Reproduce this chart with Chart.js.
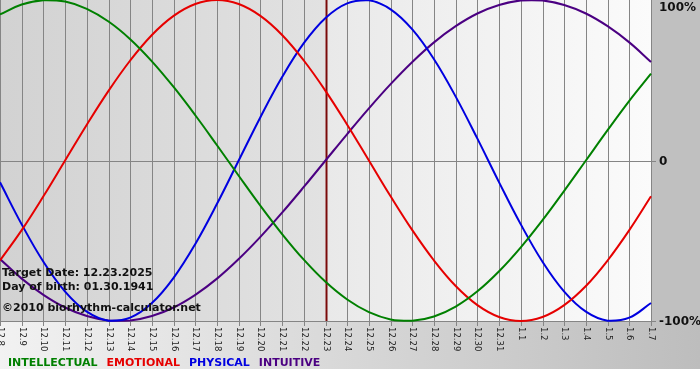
<!DOCTYPE html>
<html>
<head>
<meta charset="utf-8">
<script src="https://cdn.jsdelivr.net/npm/chart.js@4"></script>
<style>
  html, body { margin: 0; padding: 0; background: #fff; }
  #wrap { position: relative; width: 700px; height: 380px; }
</style>
</head>
<body>
<div id="wrap"><canvas id="c" width="700" height="380"></canvas></div>
<script>
// days shown on the x axis (month.day)
const days = ['12.8','12.9','12.10','12.11','12.12','12.13','12.14','12.15','12.16','12.17','12.18',
  '12.19','12.20','12.21','12.22','12.23','12.24','12.25','12.26','12.27','12.28','12.29','12.30',
  '12.31','1.1','1.2','1.3','1.4','1.5','1.6','1.7'];
const targetDay = '12.23';

// cycle values, -1 .. 1
const intellectual = [0.910,0.972,0.999,0.990,0.945,0.866,0.756,0.618,0.458,0.282,0.095,-0.095,-0.282,-0.458,-0.618,
  -0.756,-0.866,-0.945,-0.990,-0.999,-0.972,-0.910,-0.815,-0.690,-0.541,-0.372,-0.189,0.000,0.189,0.372,0.541];
const emotional = [-0.623,-0.434,-0.223,0.000,0.223,0.434,0.623,0.782,0.901,0.975,1.000,0.975,0.901,0.782,0.623,
  0.434,0.223,0.000,-0.223,-0.434,-0.623,-0.782,-0.901,-0.975,-1.000,-0.975,-0.901,-0.782,-0.623,-0.434,-0.223];
const physical = [-0.136,-0.398,-0.631,-0.817,-0.942,-0.998,-0.979,-0.888,-0.731,-0.520,-0.270,0.000,0.270,0.520,0.731,
  0.888,0.979,0.998,0.942,0.817,0.631,0.398,0.136,-0.136,-0.398,-0.631,-0.817,-0.942,-0.998,-0.979,-0.888];
const intuitive = [-0.614,-0.736,-0.837,-0.916,-0.969,-0.997,-0.997,-0.969,-0.916,-0.837,-0.736,-0.614,-0.476,-0.325,-0.165,
  0.000,0.165,0.325,0.476,0.614,0.736,0.837,0.916,0.969,0.997,0.997,0.969,0.916,0.837,0.736,0.614];

const yTicks = [1, 0, -1];
const yTickLabels = ['100%', '0', '-100%'];
const seriesNames = ['INTELLECTUAL', 'EMOTIONAL', 'PHYSICAL', 'INTUITIVE'];
const seriesColors = ['#008000', '#e60000', '#0000e0', '#4b0082'];
const infoLines = ['Target Date: 12.23.2025', 'Day of birth: 01.30.1941', '\u00a92010 biorhythm-calculator.net'];

const FONT = "'DejaVu Sans', Verdana, sans-serif";
const GRID = '#858585';

const backdrop = {
  id: 'backdrop',
  beforeDraw(chart) {
    const { ctx, chartArea: a, width, height } = chart;
    const xs = chart.scales.x;
    ctx.save();
    // outer frame
    ctx.fillStyle = '#fff';
    ctx.fillRect(0, 0, width, height);
    let g = ctx.createLinearGradient(0, 0, width, 0);
    g.addColorStop(0, '#f2f2f2');
    g.addColorStop(1, '#bdbdbd');
    ctx.fillStyle = g;
    ctx.fillRect(0, a.bottom, width, 369 - a.bottom);
    ctx.fillStyle = '#c0c0c0';
    ctx.fillRect(a.right, 0, width - a.right, a.bottom);

    // plot: past part darker than future part
    const tx = xs.getPixelForValue(days.indexOf(targetDay));
    g = ctx.createLinearGradient(a.left, 0, tx, 0);
    g.addColorStop(0, '#d2d2d2');
    g.addColorStop(1, '#e2e2e2');
    ctx.fillStyle = g;
    ctx.fillRect(a.left, a.top, tx - a.left, a.bottom - a.top);
    g = ctx.createLinearGradient(tx, 0, a.right, 0);
    g.addColorStop(0, '#e9e9e9');
    g.addColorStop(1, '#fbfbfb');
    ctx.fillStyle = g;
    ctx.fillRect(tx, a.top, a.right - tx, a.bottom - a.top);

    // grid
    ctx.strokeStyle = GRID;
    ctx.lineWidth = 1;
    ctx.beginPath();
    days.forEach((d, i) => {
      const x = Math.round(xs.getPixelForValue(i)) + 0.5;
      ctx.moveTo(x, a.top);
      ctx.lineTo(x, a.bottom + 5);
    });
    const y0 = Math.round(chart.scales.y.getPixelForValue(0)) + 0.5;
    ctx.moveTo(a.left, y0);
    ctx.lineTo(a.right + 5, y0);
    ctx.moveTo(a.left, a.bottom + 0.5);
    ctx.lineTo(a.right + 5, a.bottom + 0.5);
    ctx.moveTo(a.right + 0.5, a.top);
    ctx.lineTo(a.right + 0.5, a.bottom);
    ctx.stroke();

    // target day marker
    ctx.strokeStyle = '#7a0a0a';
    ctx.lineWidth = 2;
    ctx.beginPath();
    ctx.moveTo(Math.round(tx) + 0.5, a.top);
    ctx.lineTo(Math.round(tx) + 0.5, a.bottom);
    ctx.stroke();
    ctx.restore();
  },
  afterDraw(chart) {
    const { ctx, chartArea: a } = chart;
    const xs = chart.scales.x, ys = chart.scales.y;
    ctx.save();

    // x labels, rotated clockwise
    ctx.fillStyle = '#222';
    ctx.font = '8.5px ' + FONT;
    ctx.textAlign = 'left';
    ctx.textBaseline = 'middle';
    days.forEach((d, i) => {
      ctx.save();
      ctx.translate(Math.round(xs.getPixelForValue(i)) + 0.5, a.bottom + 6);
      ctx.rotate(Math.PI / 2);
      ctx.fillText(d, 0, 0);
      ctx.restore();
    });

    // y labels on the right
    ctx.fillStyle = '#111';
    ctx.font = 'bold 12px ' + FONT;
    yTicks.forEach((v, i) => {
      let y = ys.getPixelForValue(v);
      if (v === 1) y += 7;
      ctx.fillText(yTickLabels[i], a.right + 8, y + 1);
    });

    // info text
    ctx.font = 'bold 11px ' + FONT;
    ctx.textBaseline = 'alphabetic';
    ctx.fillText(infoLines[0], 2, 276);
    ctx.fillText(infoLines[1], 2, 290);
    ctx.fillText(infoLines[2], 2, 311);

    // legend line
    let x = 8;
    seriesNames.forEach((n, i) => {
      ctx.fillStyle = seriesColors[i];
      ctx.fillText(n, x, 366);
      x += ctx.measureText(n).width + 9;
    });
    ctx.restore();
  }
};

const series = [intellectual, emotional, physical, intuitive];

new Chart(document.getElementById('c'), {
  type: 'line',
  data: {
    labels: days,
    datasets: series.map((s, i) => ({
      label: seriesNames[i],
      data: s,
      borderColor: seriesColors[i],
      borderWidth: 2,
      pointRadius: 0,
      tension: 0.4,
      fill: false,
      clip: false,
    })),
  },
  options: {
    responsive: false,
    animation: false,
    events: [],
    layout: { padding: { left: 0, top: 0, right: 49, bottom: 59 } },
    plugins: { legend: { display: false }, tooltip: { enabled: false } },
    scales: {
      x: { display: false },
      y: { display: false, min: -1, max: 1 },
    },
  },
  plugins: [backdrop],
});
</script>
</body>
</html>
